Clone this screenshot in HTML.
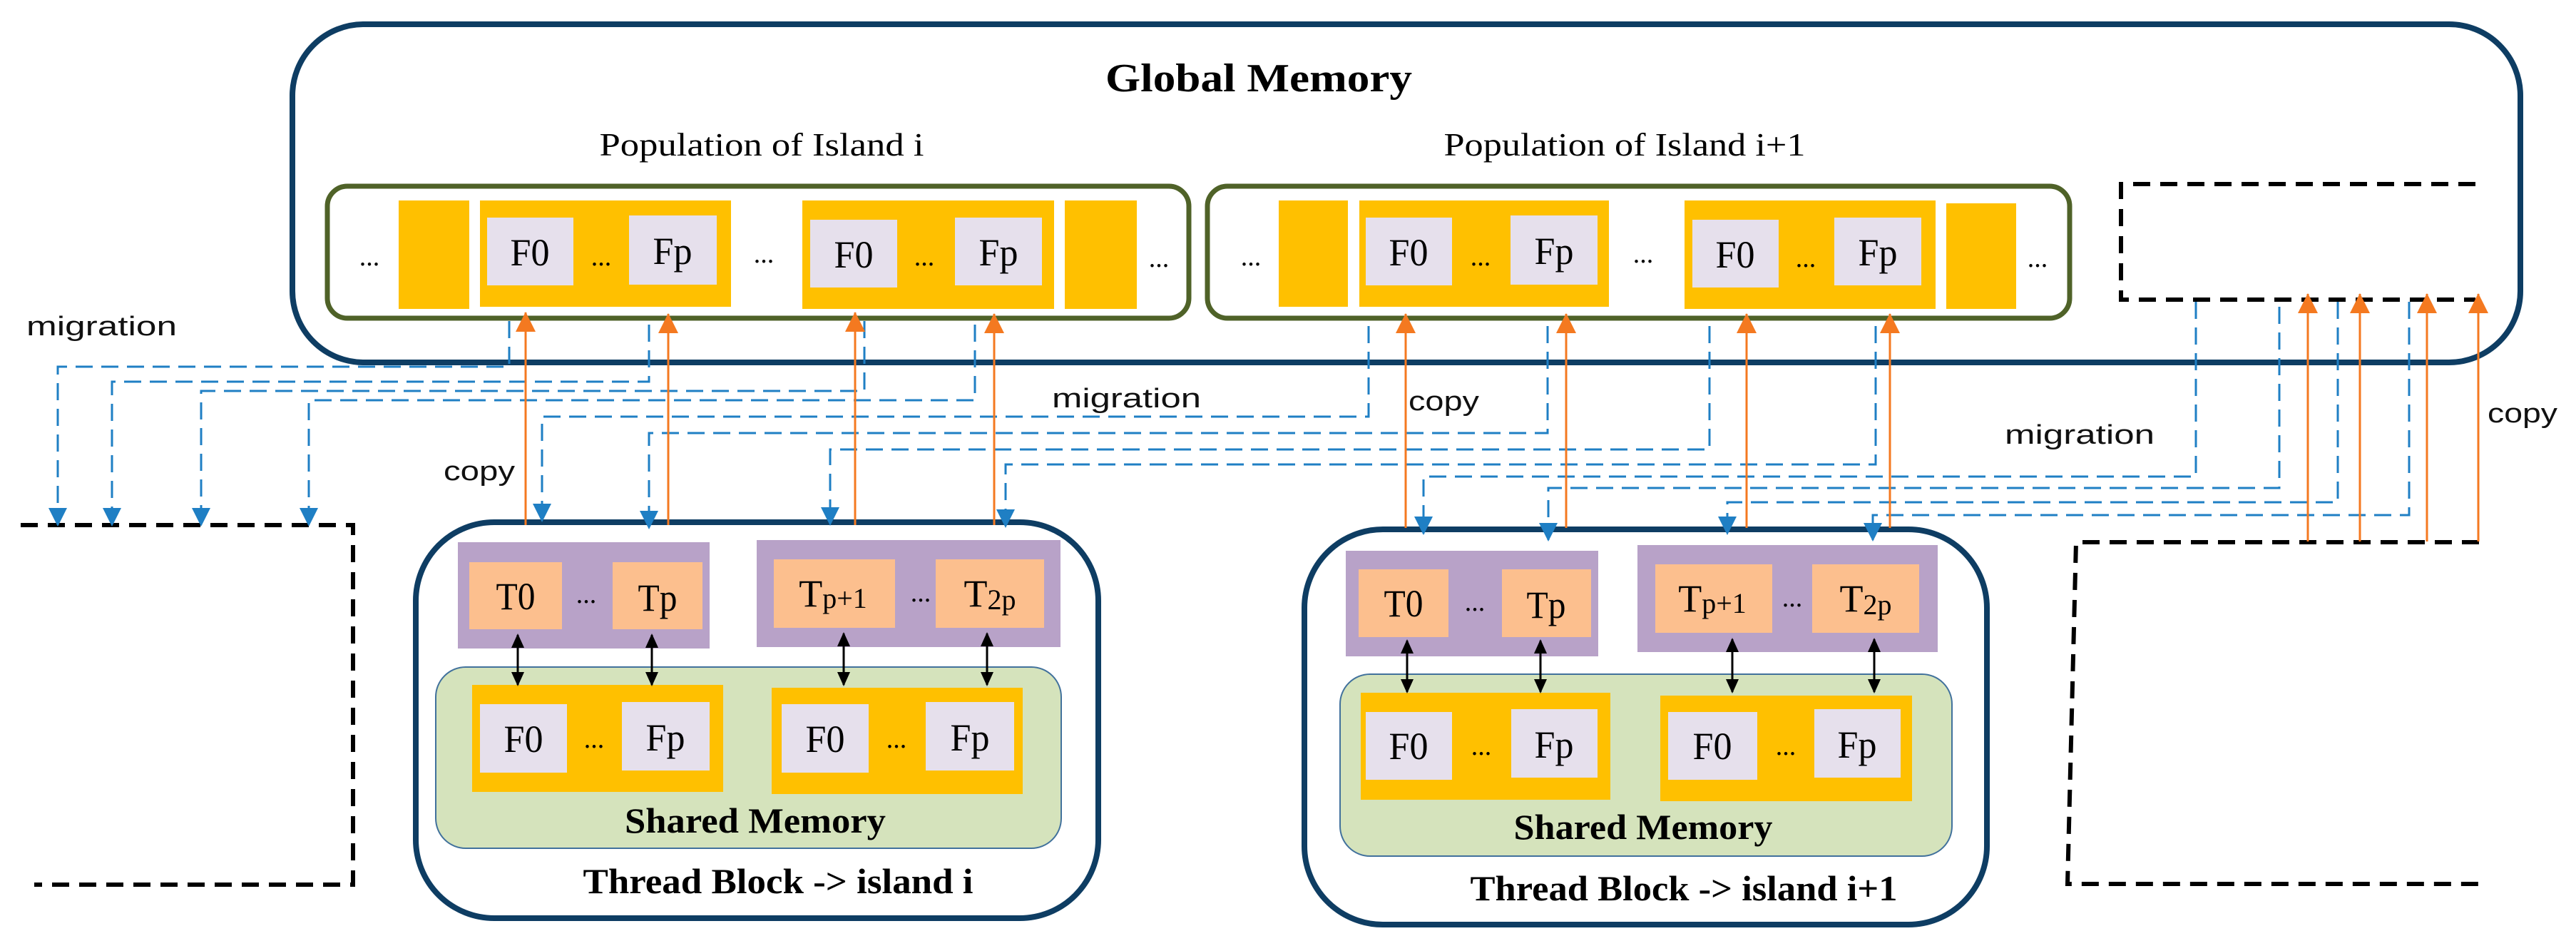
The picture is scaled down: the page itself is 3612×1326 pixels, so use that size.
<!DOCTYPE html>
<html><head><meta charset="utf-8"><style>
html,body{margin:0;padding:0;background:#fff;}
svg{display:block;}
.serif{font-family:"Liberation Serif",serif;}
.sans{font-family:"Liberation Sans",sans-serif;}
</style></head><body>
<svg width="3612" height="1326" viewBox="0 0 3612 1326" xmlns="http://www.w3.org/2000/svg">
<defs>
<marker id="ao" markerWidth="28" markerHeight="28" refX="14" refY="1" orient="0" markerUnits="userSpaceOnUse" viewBox="0 0 28 28"><path d="M0,28 L14,0 L28,28 Z" fill="#f47920"/></marker>
<marker id="ab" markerWidth="26" markerHeight="26" refX="13" refY="24" orient="0" markerUnits="userSpaceOnUse" viewBox="0 0 26 26"><path d="M0,0 L26,0 L13,26 Z" fill="#1f7fc4"/></marker>
<marker id="ak" markerWidth="18" markerHeight="20" refX="9" refY="2" orient="0" markerUnits="userSpaceOnUse" viewBox="0 0 18 20"><path d="M0,20 L9,0 L18,20 Z" fill="#000"/></marker>
<marker id="ak2" markerWidth="18" markerHeight="20" refX="9" refY="18" orient="0" markerUnits="userSpaceOnUse" viewBox="0 0 18 20"><path d="M0,0 L9,20 L18,0 Z" fill="#000"/></marker>
</defs>

<!-- Global memory -->
<rect x="410" y="34" width="3124" height="474" rx="100" fill="#fff" stroke="#0e3d63" stroke-width="8"/>
<text x="1765" y="128" class="serif" font-size="56" font-weight="bold" text-anchor="middle" textLength="430" lengthAdjust="spacingAndGlyphs">Global Memory</text>
<text x="1068" y="218" class="serif" font-size="46" text-anchor="middle" textLength="455" lengthAdjust="spacingAndGlyphs">Population of Island i</text>
<text x="2278" y="218" class="serif" font-size="46" text-anchor="middle" textLength="507" lengthAdjust="spacingAndGlyphs">Population of Island i+1</text>

<!-- Island boxes -->
<rect x="459" y="261" width="1208" height="185" rx="28" fill="#fff" stroke="#4f6228" stroke-width="7"/>
<rect x="1693" y="261" width="1209" height="185" rx="28" fill="#fff" stroke="#4f6228" stroke-width="7"/>

<g fill="#ffc000">
<rect x="559" y="281" width="99" height="152"/>
<rect x="673" y="281" width="352" height="149"/>
<rect x="1125" y="281" width="353" height="152"/>
<rect x="1493" y="281" width="101" height="152"/>
<rect x="1793" y="281" width="97" height="149"/>
<rect x="1906" y="281" width="350" height="149"/>
<rect x="2362" y="281" width="352" height="152"/>
<rect x="2729" y="285" width="98" height="148"/>
</g>
<g fill="#e6e0ec">
<rect x="683" y="305" width="121" height="95"/>
<rect x="882" y="302" width="123" height="97"/>
<rect x="1136" y="308" width="122" height="95"/>
<rect x="1339" y="305" width="122" height="95"/>
<rect x="1915" y="305" width="121" height="95"/>
<rect x="2118" y="302" width="122" height="97"/>
<rect x="2373" y="308" width="121" height="95"/>
<rect x="2572" y="305" width="122" height="95"/>
</g>
<g class="serif" font-size="54" text-anchor="middle">
<text x="743" y="372" textLength="55" lengthAdjust="spacingAndGlyphs">F0</text><text x="943" y="370" textLength="55" lengthAdjust="spacingAndGlyphs">Fp</text>
<text x="1197" y="375" textLength="55" lengthAdjust="spacingAndGlyphs">F0</text><text x="1400" y="372" textLength="55" lengthAdjust="spacingAndGlyphs">Fp</text>
<text x="1975" y="372" textLength="55" lengthAdjust="spacingAndGlyphs">F0</text><text x="2179" y="370" textLength="55" lengthAdjust="spacingAndGlyphs">Fp</text>
<text x="2433" y="375" textLength="55" lengthAdjust="spacingAndGlyphs">F0</text><text x="2633" y="372" textLength="55" lengthAdjust="spacingAndGlyphs">Fp</text>
</g>
<g class="serif" font-size="38" text-anchor="middle">
<text x="518" y="372">...</text><text x="843" y="372">...</text><text x="1071" y="368">...</text><text x="1296" y="372">...</text><text x="1625" y="374">...</text>
<text x="1754" y="372">...</text><text x="2076" y="372">...</text><text x="2304" y="368">...</text><text x="2532" y="374">...</text><text x="2857" y="374">...</text>
</g>

<!-- dashed black boxes -->
<g fill="none" stroke="#000" stroke-width="6" stroke-dasharray="24 14">
<path d="M3471,258 H2974 V420 H3471"/>
<path d="M29,736 H495 V1240 H48"/>
<path d="M3476,760 H2911 L2899,1239 H3479"/>
</g>

<!-- Thread blocks -->
<rect x="583" y="732" width="957" height="555" rx="110" fill="#fff" stroke="#0e3d63" stroke-width="8"/>
<rect x="1829" y="742" width="957" height="554" rx="110" fill="#fff" stroke="#0e3d63" stroke-width="8"/>

<g fill="#b8a2c8">
<rect x="642" y="760" width="353" height="149"/>
<rect x="1061" y="757" width="426" height="150"/>
<rect x="1887" y="772" width="354" height="148"/>
<rect x="2296" y="764" width="421" height="150"/>
</g>
<g fill="#fcbf8e">
<rect x="658" y="788" width="130" height="94"/>
<rect x="859" y="788" width="126" height="94"/>
<rect x="1085" y="784" width="170" height="96"/>
<rect x="1312" y="784" width="152" height="96"/>
<rect x="1905" y="798" width="126" height="95"/>
<rect x="2106" y="798" width="125" height="95"/>
<rect x="2321" y="791" width="164" height="96"/>
<rect x="2541" y="791" width="150" height="96"/>
</g>
<g class="serif" font-size="54" text-anchor="middle">
<text x="723" y="854" textLength="55" lengthAdjust="spacingAndGlyphs">T0</text><text x="922" y="856" textLength="55" lengthAdjust="spacingAndGlyphs">Tp</text>
<text x="1968" y="864" textLength="55" lengthAdjust="spacingAndGlyphs">T0</text><text x="2168" y="866" textLength="55" lengthAdjust="spacingAndGlyphs">Tp</text>
<text x="1168" y="850">T<tspan font-size="40" dy="2">p+1</tspan></text>
<text x="1388" y="850">T<tspan font-size="40" dy="4">2p</tspan></text>
<text x="2401" y="857">T<tspan font-size="40" dy="2">p+1</tspan></text>
<text x="2616" y="857">T<tspan font-size="40" dy="4">2p</tspan></text>
</g>
<g class="serif" font-size="38" text-anchor="middle">
<text x="822" y="845">...</text><text x="1291" y="843">...</text>
<text x="2068" y="856">...</text><text x="2513" y="850">...</text>
</g>

<!-- shared memory -->
<rect x="611" y="935" width="877" height="254" rx="42" fill="#d5e3bc" stroke="#41719c" stroke-width="2"/>
<rect x="1879" y="945" width="858" height="255" rx="42" fill="#d5e3bc" stroke="#41719c" stroke-width="2"/>
<g fill="#ffc000">
<rect x="662" y="960" width="352" height="150"/>
<rect x="1082" y="964" width="352" height="149"/>
<rect x="1908" y="971" width="350" height="150"/>
<rect x="2328" y="975" width="353" height="148"/>
</g>
<g fill="#e6e0ec">
<rect x="673" y="987" width="122" height="96"/>
<rect x="872" y="984" width="123" height="96"/>
<rect x="1096" y="987" width="122" height="96"/>
<rect x="1298" y="984" width="124" height="96"/>
<rect x="1915" y="998" width="121" height="95"/>
<rect x="2119" y="994" width="121" height="96"/>
<rect x="2339" y="998" width="125" height="95"/>
<rect x="2544" y="994" width="121" height="96"/>
</g>
<g class="serif" font-size="54" text-anchor="middle">
<text x="734" y="1054" textLength="55" lengthAdjust="spacingAndGlyphs">F0</text><text x="933" y="1052" textLength="55" lengthAdjust="spacingAndGlyphs">Fp</text>
<text x="1157" y="1054" textLength="55" lengthAdjust="spacingAndGlyphs">F0</text><text x="1360" y="1052" textLength="55" lengthAdjust="spacingAndGlyphs">Fp</text>
<text x="1975" y="1064" textLength="55" lengthAdjust="spacingAndGlyphs">F0</text><text x="2179" y="1062" textLength="55" lengthAdjust="spacingAndGlyphs">Fp</text>
<text x="2401" y="1064" textLength="55" lengthAdjust="spacingAndGlyphs">F0</text><text x="2604" y="1062" textLength="55" lengthAdjust="spacingAndGlyphs">Fp</text>
</g>
<g class="serif" font-size="38" text-anchor="middle">
<text x="833" y="1048">...</text><text x="1257" y="1048">...</text>
<text x="2077" y="1058">...</text><text x="2504" y="1058">...</text>
</g>
<g class="serif" font-weight="bold" text-anchor="middle">
<text x="1059" y="1167" font-size="50" textLength="366" lengthAdjust="spacingAndGlyphs">Shared Memory</text>
<text x="2304" y="1176" font-size="50" textLength="363" lengthAdjust="spacingAndGlyphs">Shared Memory</text>
<text x="1091" y="1252" font-size="50" textLength="547" lengthAdjust="spacingAndGlyphs">Thread Block -&gt; island i</text>
<text x="2361" y="1262" font-size="50" textLength="599" lengthAdjust="spacingAndGlyphs">Thread Block -&gt; island i+1</text>
</g>

<!-- black double arrows -->
<g stroke="#000" stroke-width="3" marker-start="url(#ak)" marker-end="url(#ak2)">
<line x1="726" y1="890" x2="726" y2="960"/><line x1="914" y1="890" x2="914" y2="960"/>
<line x1="1183" y1="888" x2="1183" y2="960"/><line x1="1384" y1="888" x2="1384" y2="960"/>
<line x1="1973" y1="898" x2="1973" y2="970"/><line x1="2160" y1="898" x2="2160" y2="970"/>
<line x1="2429" y1="896" x2="2429" y2="970"/><line x1="2628" y1="896" x2="2628" y2="970"/>
</g>

<!-- blue dashed migration -->
<g fill="none" stroke="#1f7fc4" stroke-width="3" stroke-dasharray="24 12" marker-end="url(#ab)">
<path d="M714,450 V514 H81 V736"/>
<path d="M910,455 V535 H157 V736"/>
<path d="M1212,450 V548 H282 V736"/>
<path d="M1367,455 V561 H433 V736"/>
<path d="M1919,457 V584 H760 V730"/>
<path d="M2170,457 V607 H910 V740"/>
<path d="M2397,457 V630 H1164 V735"/>
<path d="M2630,457 V651 H1410 V738"/>
<path d="M3079,423 V668 H1996 V748"/>
<path d="M3196,430 V684 H2171 V757"/>
<path d="M3278,423 V704 H2422 V748"/>
<path d="M3378,423 V722 H2626 V757"/>
</g>

<!-- orange copy arrows -->
<g stroke="#f47920" stroke-width="3" marker-start="url(#ao)">
<line x1="737" y1="438" x2="737" y2="736"/>
<line x1="937" y1="440" x2="937" y2="736"/>
<line x1="1199" y1="438" x2="1199" y2="736"/>
<line x1="1394" y1="440" x2="1394" y2="736"/>
<line x1="1971" y1="440" x2="1971" y2="740"/>
<line x1="2196" y1="440" x2="2196" y2="740"/>
<line x1="2449" y1="440" x2="2449" y2="740"/>
<line x1="2650" y1="440" x2="2650" y2="740"/>
<line x1="3236" y1="412" x2="3236" y2="759"/>
<line x1="3309" y1="412" x2="3309" y2="759"/>
<line x1="3403" y1="412" x2="3403" y2="759"/>
<line x1="3475" y1="412" x2="3475" y2="759"/>
</g>

<!-- labels -->
<g class="sans" font-size="38" fill="#111">
<text x="37" y="470" textLength="211" lengthAdjust="spacingAndGlyphs">migration</text>
<text x="1475" y="571" textLength="209" lengthAdjust="spacingAndGlyphs">migration</text>
<text x="2811" y="622" textLength="210" lengthAdjust="spacingAndGlyphs">migration</text>
<text x="622" y="673" textLength="100" lengthAdjust="spacingAndGlyphs">copy</text>
<text x="1975" y="575" textLength="99" lengthAdjust="spacingAndGlyphs">copy</text>
<text x="3488" y="592" textLength="98" lengthAdjust="spacingAndGlyphs">copy</text>
</g>
</svg>
</body></html>
